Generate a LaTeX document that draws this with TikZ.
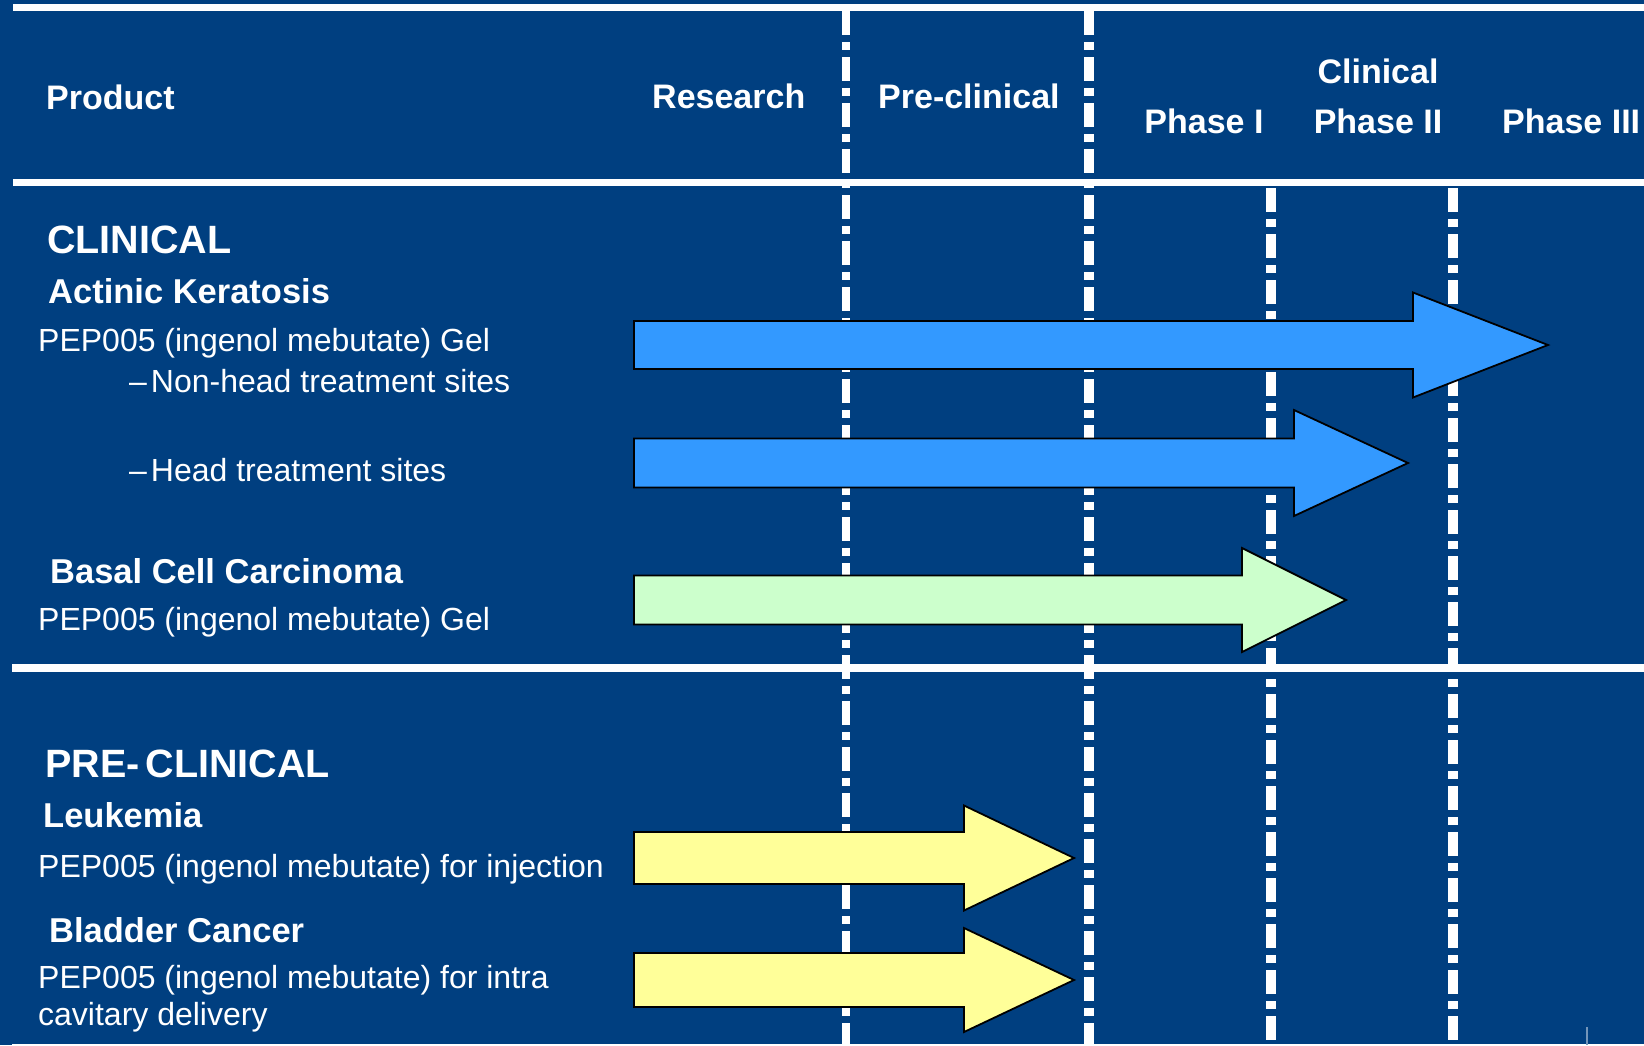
\documentclass[tikz,border=0pt]{standalone}
\usepackage{fontspec}
\setmainfont{Liberation Sans}

\definecolor{slide}{RGB}{0,63,128}
\definecolor{gelblue}{RGB}{51,153,255}
\definecolor{bccgreen}{RGB}{204,255,204}
\definecolor{preyellow}{RGB}{255,255,153}

% block arrow: fill, start, head base, tip, mid y, half shaft, half head
\newcommand\stagearrow[7]{%
  \draw[bar, fill=#1] (#2,#5-#6) -- (#3,#5-#6) -- (#3,#5-#7) -- (#4,#5)
    -- (#3,#5+#7) -- (#3,#5+#6) -- (#2,#5+#6) -- cycle;}

\tikzset{
  rule/.style={white, line width=7pt},
  gate/.style={white, line width=#1, dash pattern=on 24pt off 7pt on 8pt off 7pt},
  bar/.style={draw=black, line width=1.8pt, line join=miter},
  colhead/.style={text=white, inner sep=0pt, font=\fontsize{34}{40}\selectfont\bfseries},
  group/.style={text=white, inner sep=0pt, anchor=base west, font=\fontsize{39.5}{46}\selectfont\bfseries},
  disease/.style={text=white, inner sep=0pt, anchor=base west, font=\fontsize{34.5}{40}\selectfont\bfseries},
  item/.style={text=white, inner sep=0pt, anchor=base west, font=\fontsize{32}{37}\selectfont}
}

\begin{document}
\begin{tikzpicture}[x=1pt, y=-1pt]
	\useasboundingbox (0,0) rectangle (1644,1045);
	\fill[slide] (0,0) rectangle (1644,1045);

	% table rules
	\draw[rule] (13,7.5) -- (1644,7.5);
	\draw[rule] (13,182.5) -- (1644,182.5);
	\draw[rule, line width=8pt] (12,668) -- (1644,668);
	\draw[rule] (12,1047) -- (1644,1047);

	% stage boundaries
	\draw[gate=8pt] (846,11) -- (846,1045);
	\draw[gate=10pt] (1089,11) -- (1089,1045);
	\draw[gate=10pt] (1271,188) -- (1271,1045);
	\draw[gate=10pt] (1453,188) -- (1453,1045);
	\draw[white!45!slide, line width=2pt] (1587,1027) -- (1587,1045);

	% progress bars
	\stagearrow{gelblue}{634}{1413}{1548}{345}{24}{52.5}
	\stagearrow{gelblue}{634}{1294}{1408}{463}{24.5}{53}
	\stagearrow{bccgreen}{634}{1242}{1346}{600}{24.5}{52}
	\stagearrow{preyellow}{634}{964}{1074}{858}{26}{52.5}
	\stagearrow{preyellow}{634}{964}{1074}{980}{27}{52}

	% column headings
	\node[colhead, anchor=base west] (product) at (46,109) {Product};
	\node[colhead, anchor=base west] (research) at (652,108) {Research};
	\node[colhead, anchor=base west] (preclin) at (878,108) {Pre-clinical};
	\node[colhead, anchor=base] (clinical) at (1378,83) {Clinical};
	\node[colhead, anchor=base] (ph1) at (1204,133) {Phase I};
	\node[colhead, anchor=base] (ph2) at (1378,133) {Phase II};
	\node[colhead, anchor=base west] (ph3) at (1502,133) {Phase III};

	% clinical programmes
	\node[group] (clin) at (47,253) {CLINICAL};
	\node[disease] (ak) at (48,303) {Actinic Keratosis};
	\node[item] (akgel) at (38,351) {PEP005 (ingenol mebutate) Gel};
	\node[item] (nonhead) at (129,392) {\textendash\kern4pt Non-head treatment sites};
	\node[item] (head) at (129,481) {\textendash\kern4pt Head treatment sites};
	\node[disease] (bcc) at (50,583) {Basal Cell Carcinoma};
	\node[item] (bccgel) at (38,630) {PEP005 (ingenol mebutate) Gel};

	% pre-clinical programmes
	\node[group] (preclinical) at (45,777) {PRE-\kern6pt CLINICAL};
	\node[disease] (leuk) at (43,827) {Leukemia};
	\node[item] (inject) at (38,877) {PEP005 (ingenol mebutate) for injection};
	\node[disease] (bladder) at (49,942) {Bladder Cancer};
	\node[item] (intra) at (38,988) {PEP005 (ingenol mebutate) for intra};
	\node[item] (cavity) at (38,1025) {cavitary delivery};
\end{tikzpicture}
\end{document}
